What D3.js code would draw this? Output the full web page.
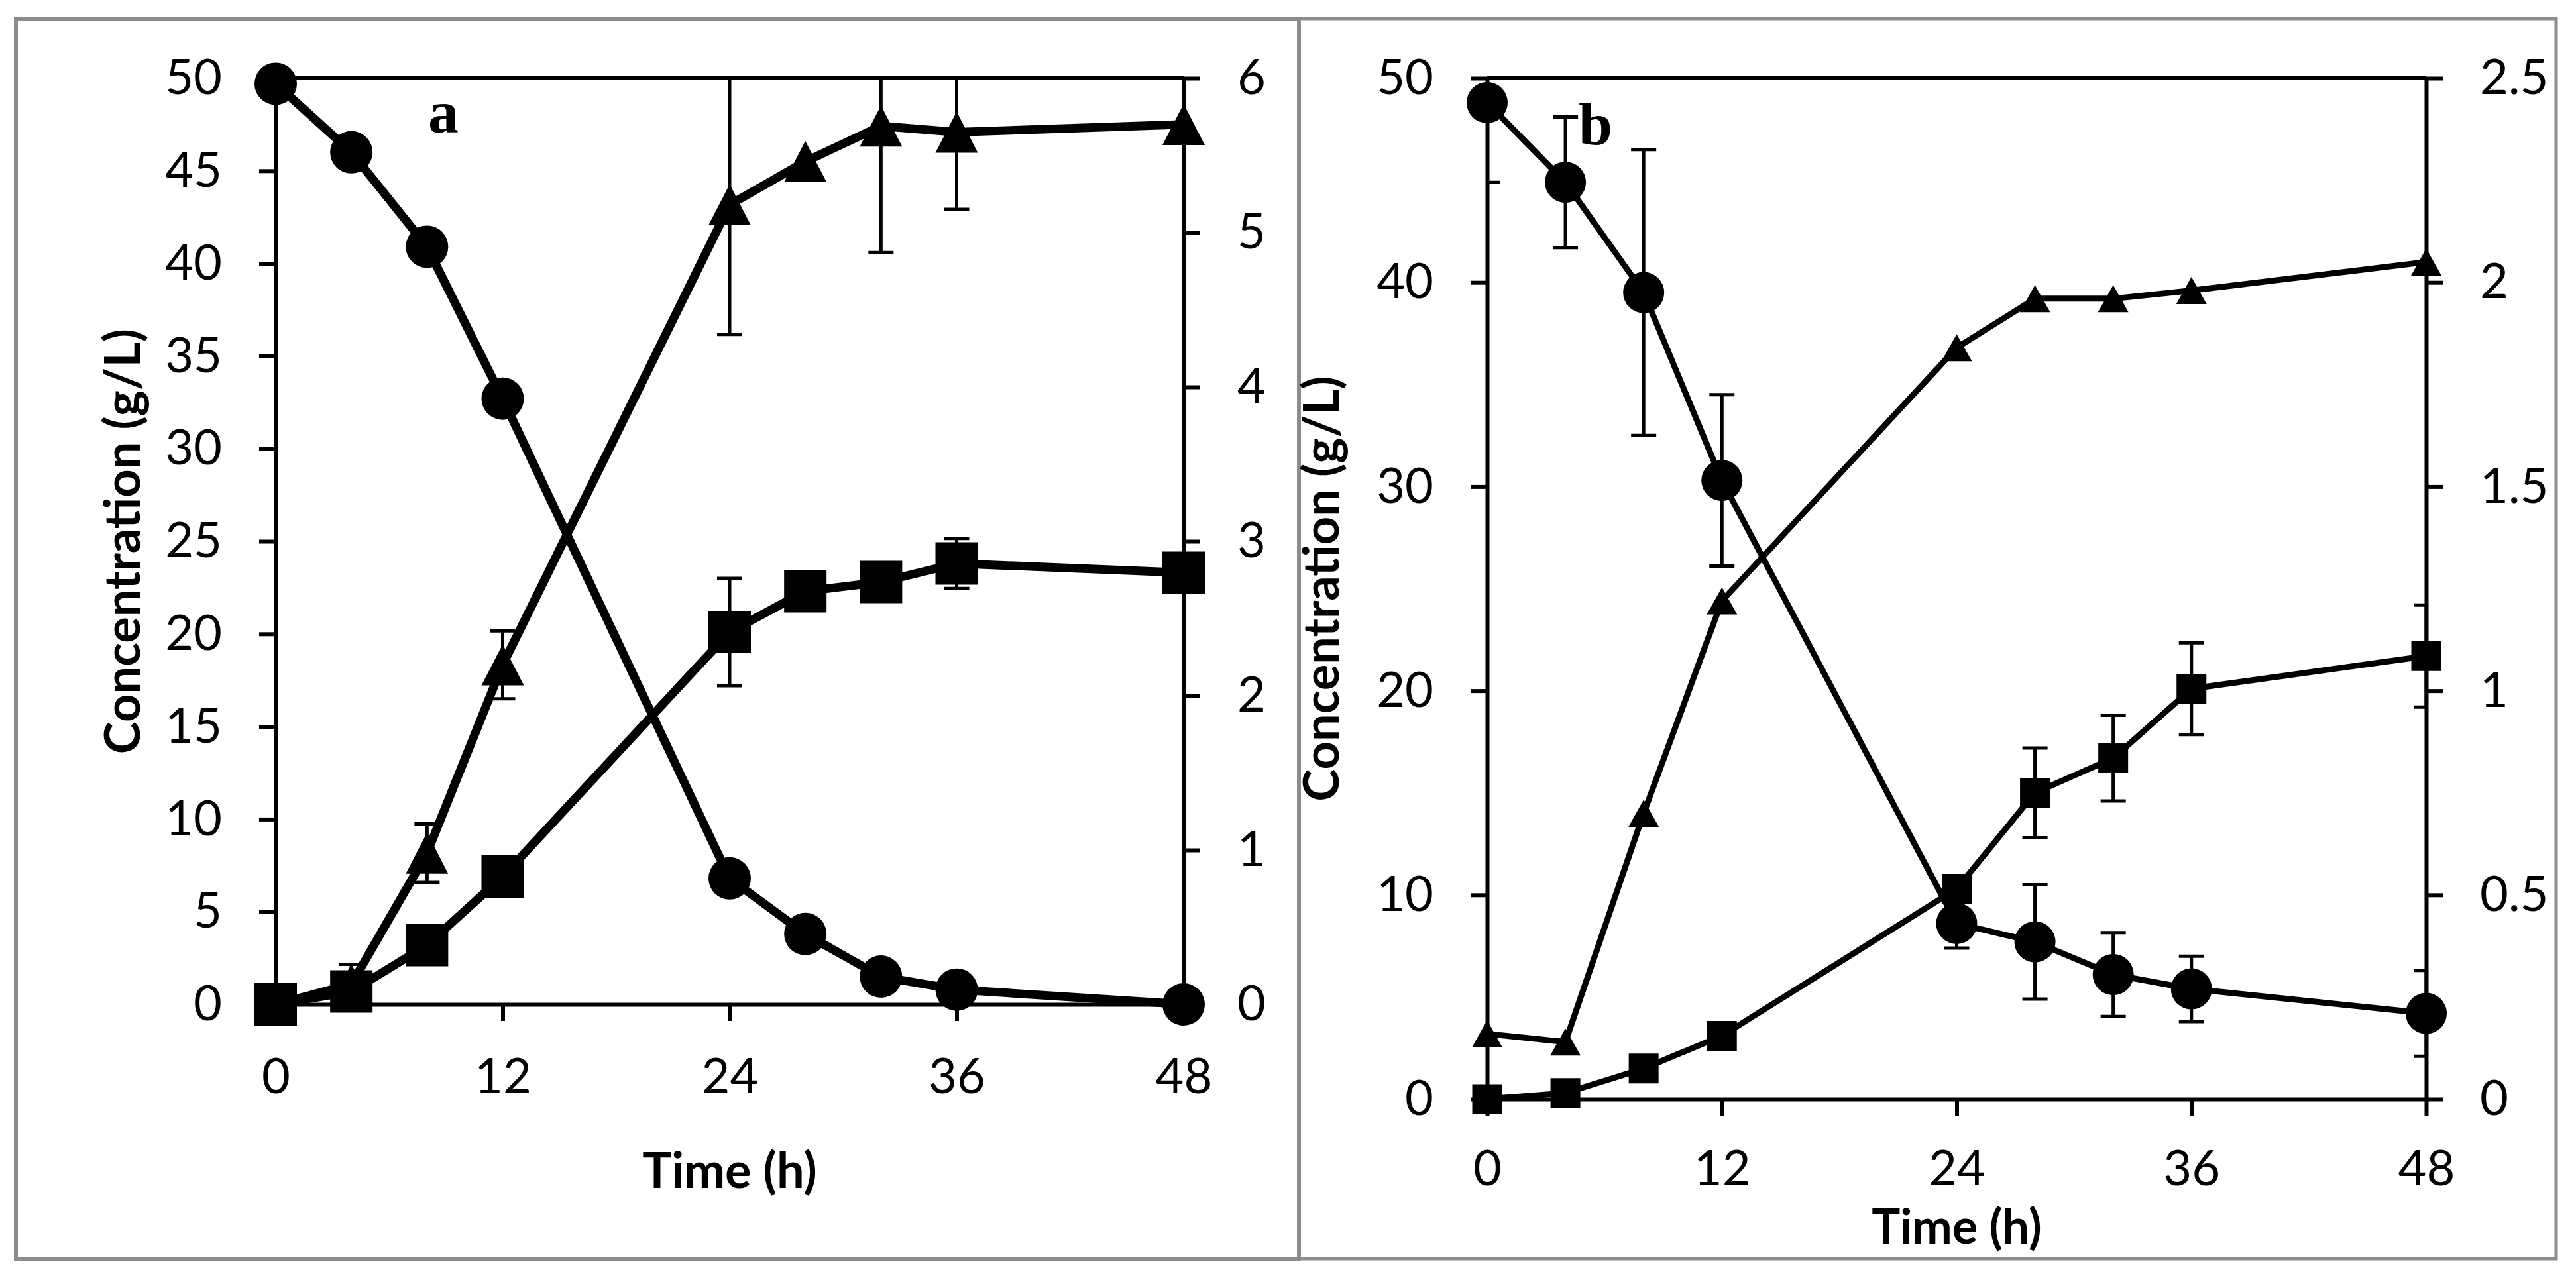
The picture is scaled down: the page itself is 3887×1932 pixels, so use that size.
<!DOCTYPE html>
<html>
<head>
<meta charset="utf-8">
<script src="https://cdn.jsdelivr.net/npm/d3@7"></script>
<style>
  body { margin: 0; background: #ffffff; }
  svg { display: block; }
</style>
</head>
<body>
<svg id="viz" width="3887" height="1932"></svg>
<script>
// sampling times (h)
const hours = [0, 4, 8, 12, 24, 28, 32, 36, 48];
const timeTicks = [0, 12, 24, 36, 48];

// panel a
const aCircle = [49.7, 46.0, 40.9, 32.7, 6.8, 3.8, 1.5, 0.8, 0.0];
const aSquare = [0.0, 0.7, 3.2, 6.9, 20.1, 22.3, 22.8, 23.8, 23.3];
const aSquareErr = [0, 0, 0, 0, 2.9, 0, 0, 1.35, 0];
const aTriangle = [0.0, 0.13, 0.98, 2.2, 5.18, 5.46, 5.69, 5.65, 5.7];
const aTriangleErr = [0, 0.13, 0.19, 0.22, 0.84, 0, 0.82, 0.5, 0];
const aLeftTicks = [0, 5, 10, 15, 20, 25, 30, 35, 40, 45, 50];
const aRightTicks = [0, 1, 2, 3, 4, 5, 6];

// panel b
const bCircle = [48.8, 44.9, 39.5, 30.3, 8.6, 7.7, 6.1, 5.4, 4.2];
const bCircleErr = [3.9, 3.2, 7.0, 4.2, 1.2, 2.8, 2.05, 1.6, 2.1];
const bSquare = [0.0, 0.3, 1.5, 3.1, 10.3, 15.0, 16.7, 20.1, 21.7];
const bSquareErr = [0, 0, 0, 0, 0, 2.2, 2.1, 2.25, 2.5];
const bTriangle = [0.16, 0.14, 0.70, 1.22, 1.84, 1.96, 1.96, 1.98, 2.05];
const bLeftTicks = [0, 10, 20, 30, 40, 50];
const bRightTicks = [0, 0.5, 1, 1.5, 2, 2.5];

const svg = d3.select("#viz");
const FONT = "Lato, 'Open Sans', sans-serif";

svg.append("rect").attr("x", 0).attr("y", 0).attr("width", 3887).attr("height", 1932).attr("fill", "#ffffff");

// grey frames round the two panels
svg.append("rect").attr("x", 24).attr("y", 28).attr("width", 1936).attr("height", 1872)
    .attr("fill", "none").attr("stroke", "#8c8c8c").attr("stroke-width", 6);
svg.append("rect").attr("x", 1960).attr("y", 28).attr("width", 1897).attr("height", 1872)
    .attr("fill", "none").attr("stroke", "#8c8c8c").attr("stroke-width", 5);

function triPath(w, h) {
    return `M0,${-h / 2}L${w / 2},${h / 2}L${-w / 2},${h / 2}Z`;
}

function drawPanel(p) {
    let g = svg.append("g");
    let x = d3.scaleLinear().domain([0, 48]).range([p.left, p.right]);
    let yL = d3.scaleLinear().domain([0, 50]).range([p.bottom, p.top]);
    let yR = d3.scaleLinear().domain([0, p.rightMax]).range([p.bottom, p.top]);

    let clipId = "clip_" + p.label;
    g.append("clipPath").attr("id", clipId).append("rect")
        .attr("x", p.left).attr("y", p.top)
        .attr("width", p.right - p.left).attr("height", p.bottom - p.top);

    // top border of plot area
    g.append("line").attr("x1", p.left).attr("x2", p.right).attr("y1", p.top).attr("y2", p.top)
        .attr("stroke", "#000").attr("stroke-width", 6);

    let axes = [
        { gen: d3.axisBottom(x).tickValues(timeTicks), tr: `translate(0,${p.bottom})`, pad: p.xPad },
        { gen: d3.axisLeft(yL).tickValues(p.leftTicks), tr: `translate(${p.left},0)`, pad: 56 },
        { gen: d3.axisRight(yR).tickValues(p.rightTicks), tr: `translate(${p.right},0)`, pad: 56 }
    ];
    axes.forEach(a => {
        let ag = g.append("g").attr("transform", a.tr)
            .call(a.gen.tickSizeInner(25).tickSizeOuter(0).tickPadding(a.pad).tickFormat(d3.format("")));
        ag.select(".domain").attr("stroke", "#000").attr("stroke-width", 6);
        ag.selectAll(".tick line").attr("stroke", "#000").attr("stroke-width", 6);
        ag.selectAll(".tick text").attr("font-family", FONT).attr("font-size", 74).attr("fill", "#000");
    });

    // axis titles
    g.append("text").text("Time (h)")
        .attr("x", (p.left + p.right) / 2).attr("y", p.xTitleY)
        .attr("text-anchor", "middle").attr("font-family", FONT).attr("font-weight", "bold")
        .attr("font-size", p.xTitleSize).attr("fill", "#000");
    g.append("text").text("Concentration (g/L)")
        .attr("transform", `translate(${p.yTitleX},${(p.top + p.bottom) / 2}) rotate(-90)`)
        .attr("text-anchor", "middle").attr("font-family", FONT).attr("font-weight", "bold")
        .attr("font-size", 74).attr("fill", "#000");

    // panel letter
    g.append("text").text(p.label)
        .attr("x", p.letterX).attr("y", p.letterY)
        .attr("font-family", "'Liberation Serif', 'Times New Roman', serif").attr("font-weight", "bold")
        .attr("font-size", 92).attr("fill", "#000");

    p.series.forEach(s => {
        let ys = s.axis === "right" ? yR : yL;
        let pts = hours.map((h, i) => ({ h: h, v: s.values[i], e: s.err ? s.err[i] : 0 }));

        // error bars, clipped to the plot area
        let eg = g.append("g").attr("clip-path", `url(#${clipId})`)
            .attr("stroke", "#000").attr("stroke-width", 5);
        pts.filter(d => d.e > 0).forEach(d => {
            let cx = x(d.h), y1 = ys(d.v + d.e), y2 = ys(d.v - d.e);
            eg.append("line").attr("x1", cx).attr("x2", cx).attr("y1", y1).attr("y2", y2);
            eg.append("line").attr("x1", cx - 19).attr("x2", cx + 19).attr("y1", y1).attr("y2", y1);
            eg.append("line").attr("x1", cx - 19).attr("x2", cx + 19).attr("y1", y2).attr("y2", y2);
        });

        g.append("path").datum(pts)
            .attr("d", d3.line().x(d => x(d.h)).y(d => ys(d.v)))
            .attr("fill", "none").attr("stroke", "#000")
            .attr("stroke-width", p.lineW).attr("stroke-linejoin", "round");

        let shape;
        if (s.marker === "circle") shape = d3.symbol().type(d3.symbolCircle).size(Math.PI * p.circleR * p.circleR)();
        else if (s.marker === "square") shape = d3.symbol().type(d3.symbolSquare).size(p.squareS * p.squareS)();
        else shape = triPath(p.triW, p.triH);

        g.append("g").selectAll("path")
            .data(pts)
            .join("path")
            .attr("d", shape)
            .attr("transform", d => `translate(${x(d.h)},${ys(d.v)})`)
            .attr("fill", "#000");
    });
}

drawPanel({
    label: "a", left: 416, right: 1786, top: 118, bottom: 1516,
    rightMax: 6, leftTicks: aLeftTicks, rightTicks: aRightTicks,
    xPad: 56, xTitleY: 1793, xTitleSize: 74, yTitleX: 211, letterX: 646, letterY: 200,
    lineW: 13, circleR: 32, squareS: 64, triW: 64, triH: 62,
    series: [
        { marker: "triangle", axis: "right", values: aTriangle, err: aTriangleErr },
        { marker: "square", axis: "left", values: aSquare, err: aSquareErr },
        { marker: "circle", axis: "left", values: aCircle }
    ]
});

drawPanel({
    label: "b", left: 2244, right: 3661, top: 118, bottom: 1659,
    rightMax: 2.5, leftTicks: bLeftTicks, rightTicks: bRightTicks,
    xPad: 52, xTitleY: 1877, xTitleSize: 72, yTitleX: 2020, letterX: 2382, letterY: 218,
    lineW: 9, circleR: 31, squareS: 45, triW: 46, triH: 41,
    series: [
        { marker: "triangle", axis: "right", values: bTriangle },
        { marker: "square", axis: "left", values: bSquare, err: bSquareErr },
        { marker: "circle", axis: "left", values: bCircle, err: bCircleErr }
    ]
});
</script>
</body>
</html>
